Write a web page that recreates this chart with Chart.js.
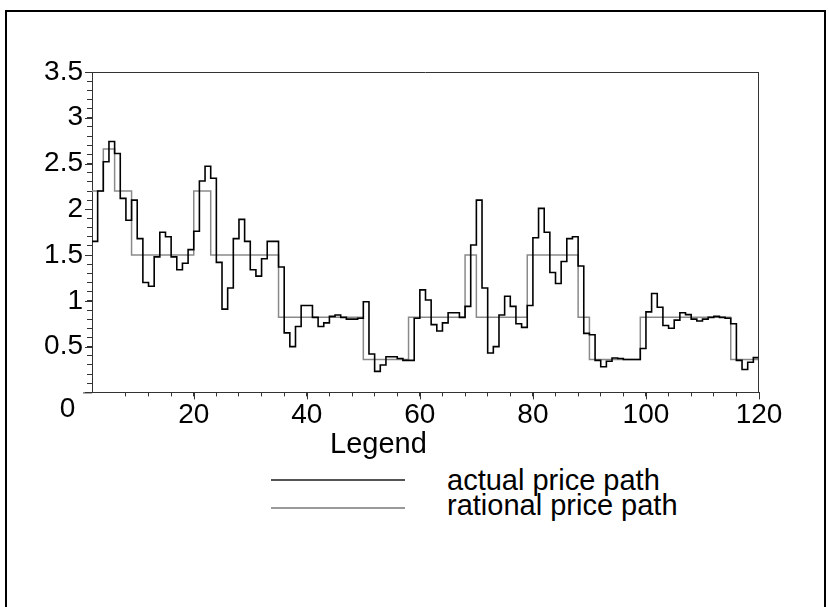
<!DOCTYPE html>
<html>
<head>
<meta charset="utf-8">
<script src="https://cdn.jsdelivr.net/npm/chart.js"></script>
<style>
  body { margin: 0; background: #fff; width: 829px; height: 607px; overflow: hidden; position: relative;
         font-family: "Liberation Sans", Arial, sans-serif; }
  #frame { position: absolute; left: 5px; top: 10px; width: 817px; height: 700px; border: 2px solid #000; }
  #plot { position: absolute; left: 0; top: 0; }
  .lg-text { position: absolute; font-size: 29px; line-height: 29px; color: #000; white-space: nowrap; }
  .lg-line { position: absolute; left: 271px; width: 134px; height: 2px; }
</style>
</head>
<body>
<div id="frame"></div>
<canvas id="plot" width="829" height="430"></canvas>

<div class="lg-text" style="left:330px; top:429px;">Legend</div>
<div class="lg-line" style="top:479px; background:#555;"></div>
<div class="lg-text" style="left:447px; top:466px;">actual price path</div>
<div class="lg-line" style="top:507px; background:#9a9a9a;"></div>
<div class="lg-text" style="left:447px; top:491px;">rational price path</div>

<script>
// period index of the first value, end of the last step
const firstPeriod = 2;
const lastPeriod = 120;

// actual price, one value per period 2..119
const actualPrice = [
  1.65, 2.20, 2.52, 2.74, 2.61, 2.12, 1.88, 2.10, 1.68, 1.20,
  1.16, 1.48, 1.75, 1.70, 1.48, 1.34, 1.41, 1.56, 1.76, 2.31,
  2.47, 2.34, 1.42, 0.91, 1.14, 1.68, 1.89, 1.65, 1.34, 1.27,
  1.46, 1.65, 1.65, 1.37, 0.65, 0.50, 0.72, 0.95, 0.95, 0.82,
  0.72, 0.76, 0.83, 0.845, 0.82, 0.80, 0.80, 0.81, 0.99, 0.42,
  0.23, 0.30, 0.39, 0.39, 0.37, 0.35, 0.35, 0.81, 1.12, 1.01,
  0.74, 0.67, 0.76, 0.87, 0.87, 0.82, 0.94, 1.61, 2.10, 1.14,
  0.43, 0.50, 0.845, 1.05, 0.94, 0.75, 0.71, 0.95, 1.69, 2.01,
  1.75, 1.31, 1.19, 1.43, 1.68, 1.70, 1.38, 0.645, 0.63, 0.35,
  0.28, 0.34, 0.375, 0.37, 0.36, 0.36, 0.36, 0.48, 0.88, 1.08,
  0.93, 0.73, 0.70, 0.79, 0.87, 0.85, 0.80, 0.78, 0.80, 0.82,
  0.83, 0.82, 0.81, 0.75, 0.35, 0.25, 0.33, 0.38
];

// rational price: level held from each start period to the next one
const rationalStart = [2, 4, 6, 9, 20, 23, 35, 50, 58, 68, 70, 79, 88, 90, 99, 115];
const rationalLevel = [2.2, 2.66, 2.2, 1.5, 2.2, 1.5, 0.82, 0.36, 0.82, 1.5, 0.82, 1.5, 0.82, 0.36, 0.82, 0.36];

const xTickLabels = ['20', '40', '60', '80', '100', '120'];
const yTickLabels = ['0', '0.5', '1', '1.5', '2', '2.5', '3', '3.5'];

const seriesNames = ['actual price path', 'rational price path'];

// step points, last level carried to the end of the axis
const actualPoints = actualPrice.map((v, i) => ({ x: firstPeriod + i, y: v }));
actualPoints.push({ x: lastPeriod, y: actualPrice[actualPrice.length - 1] });
const rationalPoints = rationalStart.map((t, i) => ({ x: t, y: rationalLevel[i] }));
rationalPoints.push({ x: lastPeriod, y: rationalLevel[rationalLevel.length - 1] });

// box round the plot, longer marks on labelled ticks
const axisBox = {
  id: 'axisBox',
  afterDraw(chart) {
    const { ctx, chartArea } = chart;
    const { left, right, top, bottom } = chartArea;
    const xs = chart.scales.x, ys = chart.scales.y;
    ctx.save();
    ctx.strokeStyle = '#333';
    ctx.lineWidth = 1;
    ctx.beginPath();
    ctx.moveTo(left, top + 0.5); ctx.lineTo(right, top + 0.5);
    ctx.moveTo(right - 0.5, top); ctx.lineTo(right - 0.5, bottom);
    ctx.moveTo(left - 9, bottom + 0.5); ctx.lineTo(left, bottom + 0.5);
    xTickLabels.forEach(l => {
      const px = Math.round(xs.getPixelForValue(Number(l))) + 0.5;
      ctx.moveTo(px, bottom); ctx.lineTo(px, bottom + 7);
    });
    yTickLabels.forEach(l => {
      const py = Math.round(ys.getPixelForValue(Number(l))) + 0.5;
      ctx.moveTo(left - 7, py); ctx.lineTo(left, py);
    });
    ctx.stroke();
    ctx.restore();
  }
};

new Chart(document.getElementById('plot'), {
  type: 'line',
  data: {
    datasets: [{
      label: seriesNames[0],
      data: actualPoints,
      stepped: true,
      borderColor: '#000',
      borderWidth: 1.6,
      pointRadius: 0,
      fill: false
    }, {
      label: seriesNames[1],
      data: rationalPoints,
      stepped: true,
      borderColor: '#8a8a8a',
      borderWidth: 1.5,
      pointRadius: 0,
      fill: false
    }]
  },
  options: {
    responsive: false,
    animation: false,
    layout: { padding: { top: 72, right: 70, left: 0, bottom: 0 } },
    plugins: {
      legend: { display: false },
      tooltip: { enabled: false }
    },
    scales: {
      x: {
        type: 'linear',
        min: firstPeriod,
        max: lastPeriod,
        afterBuildTicks: axis => { axis.ticks = axis.ticks.filter(t => t.value % 4 === 0); },
        afterFit: axis => { axis.height = 37; },
        border: { display: true, color: '#333', width: 1 },
        grid: { display: true, drawOnChartArea: false, drawTicks: true, tickLength: 4, color: '#333' },
        ticks: {
          stepSize: 4,
          autoSkip: false,
          maxRotation: 0,
          padding: 2,
          color: '#000',
          font: { family: '"Liberation Sans", Arial, sans-serif', size: 28 },
          callback: v => xTickLabels.includes(String(v)) ? String(v) : ''
        }
      },
      y: {
        min: 0,
        max: 3.5,
        afterFit: axis => { axis.width = 92; },
        border: { display: true, color: '#333', width: 1 },
        grid: { display: true, drawOnChartArea: false, drawTicks: true, tickLength: 5, color: '#333' },
        ticks: {
          stepSize: 0.1,
          autoSkip: false,
          padding: 4,
          color: '#000',
          font: { family: '"Liberation Sans", Arial, sans-serif', size: 28 },
          callback: v => {
            const s = String(Math.round(v * 10) / 10);
            if (!yTickLabels.includes(s)) return '';
            return s === '0' ? ['', '0 '] : s;
          }
        }
      }
    }
  },
  plugins: [axisBox]
});
</script>
</body>
</html>
